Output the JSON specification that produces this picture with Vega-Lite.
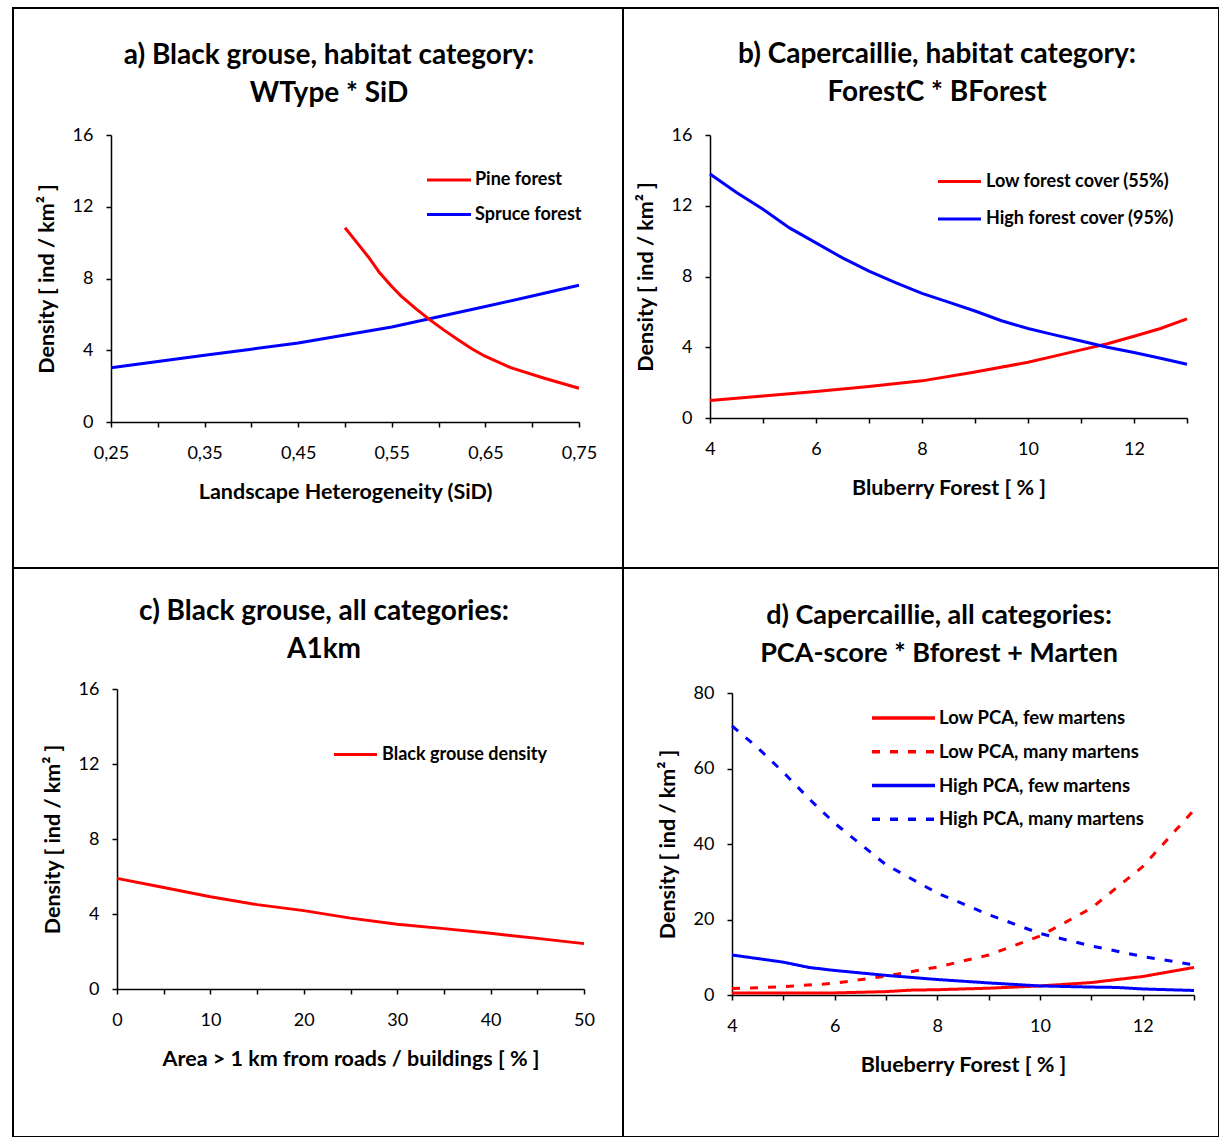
{
  "$schema": "https://vega.github.io/schema/vega-lite/v6.json",
  "padding": {"left": 12, "top": 7, "right": 0, "bottom": 0},
  "background": "white",
  "columns": 2,
  "spacing": 0,
  "bounds": "flush",
  "resolve": {"scale": {"color": "independent", "strokeDash": "independent"}, "legend": {"color": "independent", "strokeDash": "independent"}},
  "config": {
    "font": "Lato",
    "view": {"stroke": "black", "strokeWidth": 2},
    "axis": {
      "labelFont": "Lato", "labelFontSize": 18, "labelColor": "black",
      "titleFont": "Lato", "titleFontSize": 21.5, "titleFontWeight": "bold", "titleColor": "black",
      "domainColor": "black", "domainWidth": 1.5, "tickColor": "black", "tickWidth": 1.5, "tickSize": 5,
      "grid": false, "labelFlush": false, "labelOverlap": false
    },
    "axisX": {"labelPadding": 17.5, "titlePadding": 19},
    "axisY": {"labelPadding": 13, "titlePadding": 14},
    "legend": {
      "labelFont": "Lato", "labelFontSize": 18, "labelFontWeight": "bold", "labelColor": "black",
      "symbolType": "M-2,0L2,0", "padding": 0, "labelLimit": 400, "orient": "none"
    },
    "title": {"font": "Lato", "fontSize": 28, "fontWeight": "bold", "color": "black", "lineHeight": 38, "anchor": "middle", "frame": "group", "baseline": "top"}
  },
  "datasets": {
    "a": [
      {"sid": 0.25, "density": 3.02, "series": "Spruce forest"},
      {"sid": 0.30, "density": 3.37, "series": "Spruce forest"},
      {"sid": 0.35, "density": 3.72, "series": "Spruce forest"},
      {"sid": 0.40, "density": 4.06, "series": "Spruce forest"},
      {"sid": 0.45, "density": 4.41, "series": "Spruce forest"},
      {"sid": 0.50, "density": 4.85, "series": "Spruce forest"},
      {"sid": 0.55, "density": 5.3, "series": "Spruce forest"},
      {"sid": 0.60, "density": 5.87, "series": "Spruce forest"},
      {"sid": 0.65, "density": 6.44, "series": "Spruce forest"},
      {"sid": 0.70, "density": 7.02, "series": "Spruce forest"},
      {"sid": 0.75, "density": 7.62, "series": "Spruce forest"},
      {"sid": 0.50, "density": 10.83, "series": "Pine forest"},
      {"sid": 0.51, "density": 10.18, "series": "Pine forest"},
      {"sid": 0.525, "density": 9.2, "series": "Pine forest"},
      {"sid": 0.537, "density": 8.32, "series": "Pine forest"},
      {"sid": 0.55, "density": 7.55, "series": "Pine forest"},
      {"sid": 0.56, "density": 7.02, "series": "Pine forest"},
      {"sid": 0.575, "density": 6.35, "series": "Pine forest"},
      {"sid": 0.59, "density": 5.72, "series": "Pine forest"},
      {"sid": 0.605, "density": 5.15, "series": "Pine forest"},
      {"sid": 0.62, "density": 4.61, "series": "Pine forest"},
      {"sid": 0.635, "density": 4.1, "series": "Pine forest"},
      {"sid": 0.649, "density": 3.68, "series": "Pine forest"},
      {"sid": 0.677, "density": 3.03, "series": "Pine forest"},
      {"sid": 0.713, "density": 2.44, "series": "Pine forest"},
      {"sid": 0.75, "density": 1.88, "series": "Pine forest"}
    ],
    "b": [
      {"bf": 4, "density": 0.99, "series": "Low forest cover (55%)"},
      {"bf": 5, "density": 1.25, "series": "Low forest cover (55%)"},
      {"bf": 6, "density": 1.5, "series": "Low forest cover (55%)"},
      {"bf": 7, "density": 1.78, "series": "Low forest cover (55%)"},
      {"bf": 8, "density": 2.1, "series": "Low forest cover (55%)"},
      {"bf": 9, "density": 2.6, "series": "Low forest cover (55%)"},
      {"bf": 10, "density": 3.15, "series": "Low forest cover (55%)"},
      {"bf": 10.5, "density": 3.5, "series": "Low forest cover (55%)"},
      {"bf": 11, "density": 3.85, "series": "Low forest cover (55%)"},
      {"bf": 11.5, "density": 4.2, "series": "Low forest cover (55%)"},
      {"bf": 12, "density": 4.62, "series": "Low forest cover (55%)"},
      {"bf": 12.5, "density": 5.06, "series": "Low forest cover (55%)"},
      {"bf": 13, "density": 5.6, "series": "Low forest cover (55%)"},
      {"bf": 4, "density": 13.8, "series": "High forest cover (95%)"},
      {"bf": 4.5, "density": 12.75, "series": "High forest cover (95%)"},
      {"bf": 5, "density": 11.8, "series": "High forest cover (95%)"},
      {"bf": 5.5, "density": 10.75, "series": "High forest cover (95%)"},
      {"bf": 6, "density": 9.9, "series": "High forest cover (95%)"},
      {"bf": 6.5, "density": 9.05, "series": "High forest cover (95%)"},
      {"bf": 7, "density": 8.3, "series": "High forest cover (95%)"},
      {"bf": 7.5, "density": 7.65, "series": "High forest cover (95%)"},
      {"bf": 8, "density": 7.05, "series": "High forest cover (95%)"},
      {"bf": 8.5, "density": 6.55, "series": "High forest cover (95%)"},
      {"bf": 9, "density": 6.05, "series": "High forest cover (95%)"},
      {"bf": 9.5, "density": 5.5, "series": "High forest cover (95%)"},
      {"bf": 10, "density": 5.06, "series": "High forest cover (95%)"},
      {"bf": 10.5, "density": 4.7, "series": "High forest cover (95%)"},
      {"bf": 11, "density": 4.35, "series": "High forest cover (95%)"},
      {"bf": 11.5, "density": 4.0, "series": "High forest cover (95%)"},
      {"bf": 12, "density": 3.7, "series": "High forest cover (95%)"},
      {"bf": 12.5, "density": 3.38, "series": "High forest cover (95%)"},
      {"bf": 13, "density": 3.04, "series": "High forest cover (95%)"}
    ],
    "c": [
      {"area": 0, "density": 5.9, "series": "Black grouse density"},
      {"area": 5, "density": 5.41, "series": "Black grouse density"},
      {"area": 10, "density": 4.92, "series": "Black grouse density"},
      {"area": 15, "density": 4.5, "series": "Black grouse density"},
      {"area": 20, "density": 4.18, "series": "Black grouse density"},
      {"area": 25, "density": 3.78, "series": "Black grouse density"},
      {"area": 30, "density": 3.45, "series": "Black grouse density"},
      {"area": 35, "density": 3.22, "series": "Black grouse density"},
      {"area": 40, "density": 2.97, "series": "Black grouse density"},
      {"area": 45, "density": 2.7, "series": "Black grouse density"},
      {"area": 50, "density": 2.42, "series": "Black grouse density"}
    ],
    "d": [
      {"bf": 4, "density": 0.5, "series": "Low PCA, few martens"},
      {"bf": 5, "density": 0.5, "series": "Low PCA, few martens"},
      {"bf": 6, "density": 0.55, "series": "Low PCA, few martens"},
      {"bf": 7, "density": 0.9, "series": "Low PCA, few martens"},
      {"bf": 7.5, "density": 1.3, "series": "Low PCA, few martens"},
      {"bf": 8, "density": 1.4, "series": "Low PCA, few martens"},
      {"bf": 9, "density": 1.8, "series": "Low PCA, few martens"},
      {"bf": 10, "density": 2.4, "series": "Low PCA, few martens"},
      {"bf": 11, "density": 3.3, "series": "Low PCA, few martens"},
      {"bf": 12, "density": 4.9, "series": "Low PCA, few martens"},
      {"bf": 13, "density": 7.3, "series": "Low PCA, few martens"},
      {"bf": 4, "density": 1.7, "series": "Low PCA, many martens"},
      {"bf": 5, "density": 2.2, "series": "Low PCA, many martens"},
      {"bf": 6, "density": 3.1, "series": "Low PCA, many martens"},
      {"bf": 7, "density": 5.0, "series": "Low PCA, many martens"},
      {"bf": 8, "density": 7.4, "series": "Low PCA, many martens"},
      {"bf": 9, "density": 10.6, "series": "Low PCA, many martens"},
      {"bf": 10, "density": 15.6, "series": "Low PCA, many martens"},
      {"bf": 11, "density": 23.0, "series": "Low PCA, many martens"},
      {"bf": 12, "density": 34.0, "series": "Low PCA, many martens"},
      {"bf": 13, "density": 49.0, "series": "Low PCA, many martens"},
      {"bf": 4, "density": 10.6, "series": "High PCA, few martens"},
      {"bf": 5, "density": 8.7, "series": "High PCA, few martens"},
      {"bf": 5.5, "density": 7.3, "series": "High PCA, few martens"},
      {"bf": 6, "density": 6.5, "series": "High PCA, few martens"},
      {"bf": 7, "density": 5.2, "series": "High PCA, few martens"},
      {"bf": 8, "density": 4.1, "series": "High PCA, few martens"},
      {"bf": 9, "density": 3.2, "series": "High PCA, few martens"},
      {"bf": 10, "density": 2.4, "series": "High PCA, few martens"},
      {"bf": 11, "density": 2.1, "series": "High PCA, few martens"},
      {"bf": 11.5, "density": 2.0, "series": "High PCA, few martens"},
      {"bf": 12, "density": 1.6, "series": "High PCA, few martens"},
      {"bf": 13, "density": 1.2, "series": "High PCA, few martens"},
      {"bf": 4, "density": 71.3, "series": "High PCA, many martens"},
      {"bf": 4.5, "density": 65.5, "series": "High PCA, many martens"},
      {"bf": 5, "density": 59.0, "series": "High PCA, many martens"},
      {"bf": 5.5, "density": 52.0, "series": "High PCA, many martens"},
      {"bf": 6, "density": 45.5, "series": "High PCA, many martens"},
      {"bf": 6.5, "density": 40.0, "series": "High PCA, many martens"},
      {"bf": 7, "density": 34.5, "series": "High PCA, many martens"},
      {"bf": 8, "density": 27.0, "series": "High PCA, many martens"},
      {"bf": 9, "density": 21.3, "series": "High PCA, many martens"},
      {"bf": 10, "density": 16.3, "series": "High PCA, many martens"},
      {"bf": 11, "density": 13.0, "series": "High PCA, many martens"},
      {"bf": 12, "density": 10.2, "series": "High PCA, many martens"},
      {"bf": 13, "density": 8.0, "series": "High PCA, many martens"}
    ]
  },
  "concat": [
    {
      "width": 610, "height": 560,
      "title": {"text": ["a) Black grouse, habitat category:", "WType * SiD"], "offset": -100, "dx": 11},
      "data": {"name": "a"},
      "mark": {"type": "line", "strokeWidth": 3},
      "encoding": {
        "x": {"field": "sid", "type": "quantitative",
          "scale": {"domain": [0.25, 0.75], "range": [98, 566], "nice": false, "zero": false},
          "axis": {"title": "Landscape Heterogeneity (SiD)", "offset": -146,
            "values": [0.25, 0.3, 0.35, 0.4, 0.45, 0.5, 0.55, 0.6, 0.65, 0.7, 0.75],
            "labelExpr": "round(datum.value*100) % 10 == 5 ? replace(format(datum.value, '.2f'), '.', ',') : ''"}},
        "y": {"field": "density", "type": "quantitative",
          "scale": {"domain": [0, 16], "range": [414, 127], "nice": false},
          "axis": {"title": "Density [ ind / km² ]", "offset": -98, "values": [0, 4, 8, 12, 16]}},
        "color": {"field": "series", "type": "nominal",
          "scale": {"domain": ["Pine forest", "Spruce forest"], "range": ["#ff0000", "#0000ff"]},
          "legend": {"title": null, "legendX": 423.5, "legendY": 159.5, "symbolSize": 484, "symbolStrokeWidth": 3, "rowPadding": 12.5, "labelOffset": 13.5}}
      }
    },
    {
      "width": 596, "height": 560,
      "title": {"text": ["b) Capercaillie, habitat category:", "ForestC * BForest"], "offset": -99, "dx": 16},
      "data": {"name": "b"},
      "mark": {"type": "line", "strokeWidth": 3},
      "encoding": {
        "x": {"field": "bf", "type": "quantitative",
          "scale": {"domain": [4, 13], "range": [87, 564], "nice": false, "zero": false},
          "axis": {"title": "Bluberry Forest [ % ]", "offset": -150,
            "values": [4, 5, 6, 7, 8, 9, 10, 11, 12, 13],
            "labelExpr": "datum.value % 2 == 0 ? format(datum.value, 'd') : ''"}},
        "y": {"field": "density", "type": "quantitative",
          "scale": {"domain": [0, 16], "range": [410, 127], "nice": false},
          "axis": {"title": "Density [ ind / km² ]", "offset": -87, "values": [0, 4, 8, 12, 16]}},
        "color": {"field": "series", "type": "nominal",
          "scale": {"domain": ["Low forest cover (55%)", "High forest cover (95%)"], "range": ["#ff0000", "#0000ff"]},
          "legend": {"title": null, "legendX": 324, "legendY": 161, "symbolSize": 462.25, "symbolStrokeWidth": 3, "rowPadding": 15.5, "labelOffset": 14}}
      }
    },
    {
      "width": 610, "height": 569,
      "title": {"text": ["c) Black grouse, all categories:", "A1km"], "offset": -96, "dx": 6},
      "data": {"name": "c"},
      "mark": {"type": "line", "strokeWidth": 3},
      "encoding": {
        "x": {"field": "area", "type": "quantitative",
          "scale": {"domain": [0, 50], "range": [104, 571], "nice": false},
          "axis": {"title": "Area > 1 km from roads / buildings [ % ]", "offset": -148,
            "values": [0, 5, 10, 15, 20, 25, 30, 35, 40, 45, 50],
            "labelExpr": "datum.value % 10 == 0 ? format(datum.value, 'd') : ''"}},
        "y": {"field": "density", "type": "quantitative",
          "scale": {"domain": [0, 16], "range": [421, 121], "nice": false},
          "axis": {"title": "Density [ ind / km² ]", "offset": -104, "values": [0, 4, 8, 12, 16]}},
        "color": {"field": "series", "type": "nominal",
          "scale": {"domain": ["Black grouse density"], "range": ["#ff0000"]},
          "legend": {"title": null, "legendX": 330, "legendY": 174, "symbolSize": 462.25, "symbolStrokeWidth": 3, "labelOffset": 14}}
      }
    },
    {
      "width": 596, "height": 569,
      "title": {"text": ["d) Capercaillie, all categories:", "PCA-score * Bforest + Marten"], "offset": -100, "dx": 18, "fontSize": 27},
      "data": {"name": "d"},
      "mark": {"type": "line", "strokeWidth": 3},
      "encoding": {
        "x": {"field": "bf", "type": "quantitative",
          "scale": {"domain": [4, 13], "range": [109, 571], "nice": false, "zero": false},
          "axis": {"title": "Blueberry Forest [ % ]", "offset": -142,
            "values": [4, 5, 6, 7, 8, 9, 10, 11, 12, 13],
            "labelExpr": "datum.value % 2 == 0 ? format(datum.value, 'd') : ''"}},
        "y": {"field": "density", "type": "quantitative",
          "scale": {"domain": [0, 80], "range": [427, 125], "nice": false},
          "axis": {"title": "Density [ ind / km² ]", "offset": -109, "values": [0, 20, 40, 60, 80]}},
        "color": {"field": "series", "type": "nominal",
          "scale": {"domain": ["Low PCA, few martens", "Low PCA, many martens", "High PCA, few martens", "High PCA, many martens"], "range": ["#ff0000", "#ff0000", "#0000ff", "#0000ff"]},
          "legend": {"title": null, "legendX": 263, "legendY": 132.5, "symbolSize": 992.25, "symbolStrokeWidth": 3.5, "rowPadding": 6.75, "labelOffset": 18, "labelFontSize": 18.5}},
        "strokeDash": {"field": "series", "type": "nominal",
          "scale": {"domain": ["Low PCA, few martens", "Low PCA, many martens", "High PCA, few martens", "High PCA, many martens"], "range": [[1, 0], [8, 10], [1, 0], [8, 10]]},
          "legend": {"title": null, "legendX": 263, "legendY": 132.5, "symbolSize": 992.25, "symbolStrokeWidth": 3.5, "rowPadding": 6.75, "labelOffset": 18, "labelFontSize": 18.5}},
        "strokeWidth": {"field": "series", "type": "nominal",
          "scale": {"domain": ["Low PCA, few martens", "Low PCA, many martens", "High PCA, few martens", "High PCA, many martens"], "range": [3, 3.6, 3, 3.6]},
          "legend": null}
      }
    }
  ]
}
